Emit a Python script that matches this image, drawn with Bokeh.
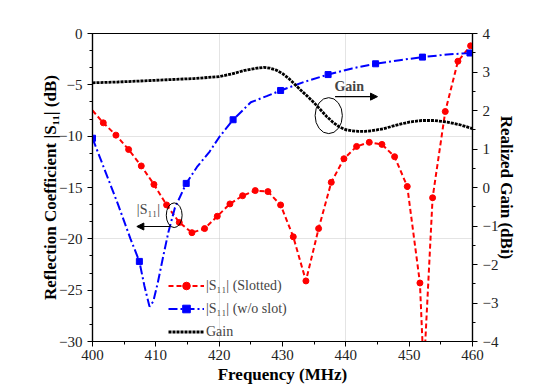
from bokeh.plotting import figure
from bokeh.models import (Range1d, LinearAxis, SingleIntervalTicker, FixedTicker,
                          Legend, LegendItem, Arrow, NormalHead, Label)
from bokeh.embed import file_html
from bokeh.resources import INLINE

# |S11| slotted (dB)
slot_freq = [400, 401.7, 403.7, 405.7, 407.7, 409.7, 411.7, 413.7, 415.7, 417.7, 419.7,
             421.7, 423.7, 425.7, 427.7, 429.7, 431.7, 433.7, 435.7, 437.7, 439.7,
             441.7, 443.7, 445.7, 447.7, 449.7, 451.7, 452.3, 453.7, 455.7, 457.7, 459.7]
slot_s11 = [-7.5, -8.7, -9.9, -11.3, -12.9, -14.7, -16.7, -18.4, -19.4, -19.0, -17.8,
            -16.6, -15.8, -15.3, -15.4, -16.7, -19.8, -24.1, -19.0, -14.5, -12.2,
            -11.0, -10.6, -10.8, -12.0, -14.9, -24.3, -33.0, -16.0, -7.6, -2.7, -1.2]

# |S11| without slot (dB)
noslot_freq = [400, 402, 404, 406, 407.4, 408.2, 409.0, 409.6, 410.3, 411.2, 412.0, 413.0,
               414.8, 416.5, 418.5, 420.0, 422.2, 425.0, 427.5, 429.7, 433.5, 437.2,
               441.0, 444.7, 448.5, 452.1, 456.0, 459.6, 460.0]
noslot_s11 = [-10.2, -13.4, -16.6, -20.0, -22.2, -24.6, -26.6, -26.1, -24.3, -21.6, -19.3, -17.0,
              -14.6, -13.0, -11.5, -10.1, -8.4, -6.7, -6.1, -5.55, -4.7, -4.0,
              -3.4, -2.95, -2.6, -2.3, -2.05, -1.9, -1.85]
noslot_marker_idx = [0, 4, 12, 16, 19, 21, 23, 25, 27]

# Realized gain (dBi)
gain_freq = [400, 404, 408, 412, 416, 420, 422, 424, 426, 427, 428, 429, 430, 431, 432,
             433, 434, 435, 436, 437, 438, 439, 440, 441, 442, 443, 444, 446, 448, 450,
             452, 454, 456, 458, 460]
gain_dbi = [2.72, 2.74, 2.77, 2.80, 2.83, 2.88, 2.95, 3.04, 3.10, 3.12, 3.10, 3.05, 2.96, 2.83, 2.67,
            2.51, 2.36, 2.20, 2.02, 1.84, 1.69, 1.57, 1.50, 1.47, 1.46, 1.46, 1.47, 1.53, 1.62, 1.70,
            1.74, 1.74, 1.70, 1.63, 1.53]

legend_labels = ["|S\u2081\u2081| (Slotted)", "|S\u2081\u2081| (w/o slot)", "Gain"]

FONT = "Liberation Serif"

p = figure(frame_width=380, frame_height=308, min_border_left=92, min_border_right=74,
           min_border_top=33, min_border_bottom=42,
           x_range=Range1d(400, 460), y_range=Range1d(-30, 0),
           output_backend="svg", toolbar_location=None, background_fill_color="white")
p.extra_y_ranges = {"gain": Range1d(-4, 4)}

p.outline_line_color = "black"
p.outline_line_width = 1.2
p.outline_line_alpha = 1

# grid
p.xgrid.ticker = FixedTicker(ticks=[420, 440])
p.ygrid.ticker = FixedTicker(ticks=[-10, -20])
for g in (p.xgrid[0], p.ygrid[0]):
    g.grid_line_color = "#c8c8c8"
    g.grid_line_dash = "1 1"

# axes
p.xaxis.ticker = SingleIntervalTicker(interval=10, num_minor_ticks=2)
p.yaxis.ticker = SingleIntervalTicker(interval=5, num_minor_ticks=3)
p.xaxis.axis_label = "Frequency (MHz)"
p.yaxis.axis_label = "Reflection Coefficient |S\u2081\u2081| (dB)"

ax_r = LinearAxis(y_range_name="gain", axis_label="Realized Gain (dBi)",
                  ticker=SingleIntervalTicker(interval=1, num_minor_ticks=2))
p.add_layout(ax_r, "right")

for ax in (p.xaxis[0], p.yaxis[0], ax_r):
    ax.axis_line_color = "black"
    ax.axis_line_width = 1.2
    ax.major_tick_line_color = "black"
    ax.minor_tick_line_color = "black"
    ax.major_tick_in = 0
    ax.major_tick_out = 5
    ax.minor_tick_in = 0
    ax.minor_tick_out = 3
    ax.major_label_text_font = FONT
    ax.major_label_text_font_size = "15px"
    ax.major_label_text_color = "#222222"
    ax.axis_label_text_font = FONT
    ax.axis_label_text_font_size = "17px"
    ax.axis_label_text_font_style = "bold"
    ax.axis_label_text_color = "black"
p.xaxis.major_label_standoff = 3
p.xaxis.axis_label_standoff = 2
p.yaxis.axis_label_standoff = -4
ax_r.axis_label_standoff = -4

# series
r_line = p.line(slot_freq, slot_s11, line_color="#ff0000", line_width=2, line_dash="5 3")
r_pts = p.scatter(slot_freq[1:], slot_s11[1:], marker="circle", size=6,
                  fill_color="#ff0000", line_color="#ff0000")

b_line = p.line(noslot_freq, noslot_s11, line_color="#0000ff", line_width=2, line_dash="9 3 2 3")
b_pts = p.scatter([noslot_freq[i] for i in noslot_marker_idx],
                  [noslot_s11[i] for i in noslot_marker_idx],
                  marker="square", size=6, fill_color="#0000ff", line_color="#0000ff")

g_line = p.line(gain_freq, gain_dbi, y_range_name="gain", line_color="black",
                line_width=2.8, line_dash="3 1")

# annotations
p.ellipse(x=[437.3], y=[-8.0], width=4.3, height=3.5, fill_color=None,
          line_color="black", line_width=1)
p.ellipse(x=[412.9], y=[-17.7], width=2.5, height=2.4, fill_color=None,
          line_color="black", line_width=1)
p.add_layout(Arrow(end=NormalHead(size=7, fill_color="black", line_color="black"),
                   x_start=438.3, y_start=-6.15, x_end=445.0, y_end=-6.15,
                   line_color="black", line_width=1.2))
p.add_layout(Arrow(end=NormalHead(size=7, fill_color="black", line_color="black"),
                   x_start=412.3, y_start=-18.8, x_end=407.0, y_end=-18.8,
                   line_color="black", line_width=1.2))
p.add_layout(Label(x=438.2, y=-5.9, text="Gain", text_font=FONT, text_font_size="14px",
                   text_font_style="bold", text_baseline="bottom"))
p.add_layout(Label(x=407.0, y=-17.9, text="|S\u2081\u2081|", text_font=FONT,
                   text_font_size="14px", text_baseline="bottom"))

legend = Legend(items=[LegendItem(label=legend_labels[0], renderers=[r_line, r_pts]),
                       LegendItem(label=legend_labels[1], renderers=[b_line, b_pts]),
                       LegendItem(label=legend_labels[2], renderers=[g_line])],
                location=(76, 0), border_line_color=None, background_fill_alpha=0,
                padding=2, margin=0, spacing=4, glyph_width=36, glyph_height=19,
                label_standoff=2, label_text_font=FONT, label_text_font_size="14px",
                label_height=19)
p.add_layout(legend, "center")

open("out.html", "w").write(file_html(p, INLINE))
